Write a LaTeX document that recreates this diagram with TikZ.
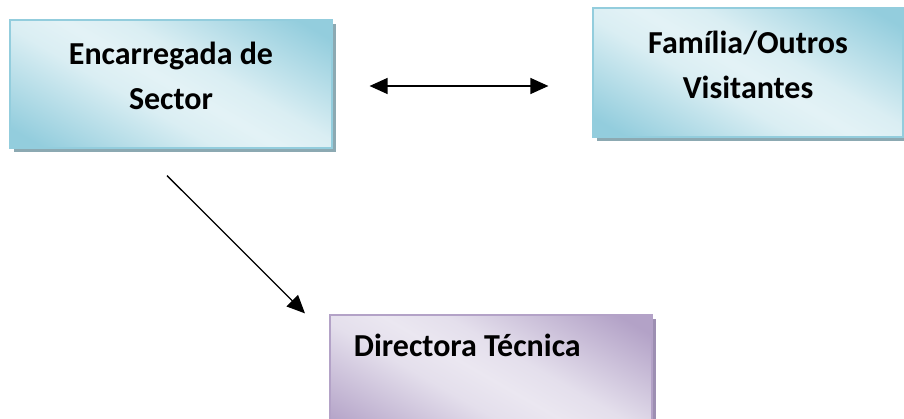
\documentclass[tikz,border=0pt]{standalone}
\usepackage{fontspec}
\setmainfont{Carlito}
\usetikzlibrary{arrows.meta,shadows}
\definecolor{aquaedge}{HTML}{93CDDD}
\definecolor{aqualight}{HTML}{DAEEF3}
\definecolor{aquashadow}{HTML}{8CA9B2}
\definecolor{lilacedge}{HTML}{B3A2C7}
\definecolor{lilaclight}{HTML}{E4DFEC}
\definecolor{lilacshadow}{HTML}{9D8FB2}
\pgfdeclareverticalshading{aquashade}{100bp}{color(0bp)=(aquaedge); color(20bp)=(aquaedge);
  color(42bp)=(aqualight); color(50bp)=(aqualight!75!white); color(58bp)=(aqualight);
  color(80bp)=(aquaedge); color(100bp)=(aquaedge)}
\pgfdeclareverticalshading{lilacshade}{100bp}{color(0bp)=(lilacedge); color(20bp)=(lilacedge);
  color(42bp)=(lilaclight); color(50bp)=(lilaclight!75!white); color(58bp)=(lilaclight);
  color(80bp)=(lilacedge); color(100bp)=(lilacedge)}
\begin{document}
\begin{tikzpicture}[x=1pt,y=1pt]
\tikzset{box/.style={draw=aquaedge, line width=1.2pt, shading=aquashade, shading angle=-30,
  minimum width=322pt, minimum height=128pt, align=center, text depth=16pt,
  font=\fontsize{32}{45}\selectfont\bfseries,
  drop shadow={shadow xshift=4pt, shadow yshift=-4pt, fill=aquashadow, opacity=1}}}
\tikzset{lilacbox/.style={box, draw=lilacedge, shading=lilacshade,
  drop shadow={shadow xshift=4pt, shadow yshift=-4pt, fill=lilacshadow, opacity=1}}}
\tikzset{link/.style={line width=1.3pt, -{Triangle[length=18pt,width=16pt]}}}
\useasboundingbox (0,0) rectangle (904,-418);
\clip (0,0) rectangle (904,-418);
\node[box] (sector) at (171,-84) {Encarregada de\\Sector};
\node[box, minimum width=310pt, minimum height=129pt] (familia) at (748,-72.5) {Família/Outros\\Visitantes};
\node[lilacbox] (directora) at (491,-379) {};
\node[anchor=base west, font=\fontsize{32}{45}\selectfont\bfseries] (dirlabel)
  at ([shift={(21,-42)}]directora.north west) {Directora Técnica};
% connectors
\coordinate (h1) at ([shift={(37,-2)}]sector.east);
\coordinate (h2) at ([shift={(-44,-13.5)}]familia.west);
\coordinate (d1) at ([shift={(-4,-27)}]sector.south);
\coordinate (d2) at ([shift={(-186,1)}]directora.north);
\draw[link, {Triangle[length=18pt,width=16pt]}-{Triangle[length=18pt,width=16pt]}] (h1) -- (h2);
\draw[link] (d1) -- (d2);
\end{tikzpicture}
\end{document}
